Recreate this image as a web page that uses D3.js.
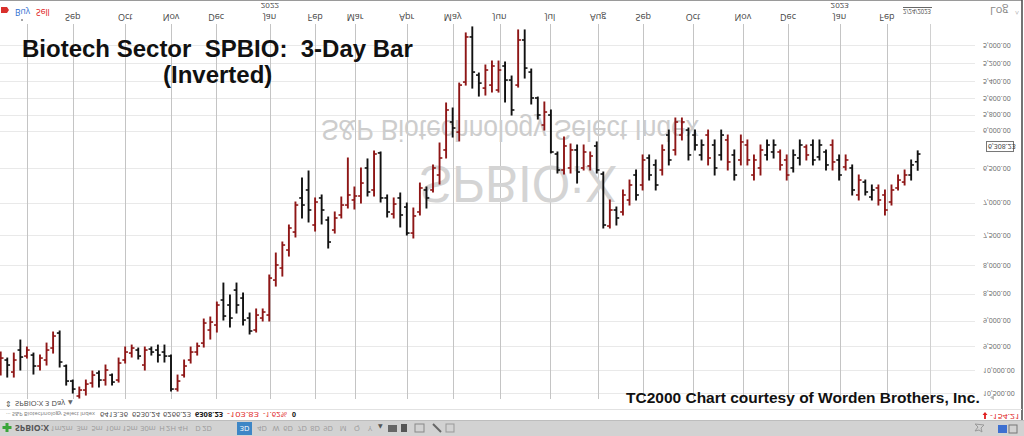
<!DOCTYPE html>
<html><head><meta charset="utf-8">
<script src="https://cdn.jsdelivr.net/npm/d3@7/dist/d3.min.js"></script>
<style>html,body{margin:0;padding:0;background:#fff;overflow:hidden}svg{display:block}</style>
</head><body><svg id="c" width="1024" height="436"></svg>
<script>
// 3-day bars, S&P Biotechnology Select Index (SPBIO:X), Aug 2021 - Feb 24 2023
const open  = [9956,9787,10041,9581,9705,9684,9913,9787,9540,9240,9913,10236,10568,10434,10280,10063,10214,10106,10214,9787,
9643,9581,9892,9561,9581,9622,9705,10412,10106,9787,9622,9440,9181,9083,8612,8704,8431,8576,8949,9181,
8949,8892,8253,8044,7741,7450,6928,6811,7339,6928,7261,7418,7184,7033,6958,6899,6499,6811,6294,6928,
7169,6928,7063,7466,7138,6811,6811,6597,6254,5892,6020,5411,4915,5331,5481,5446,5504,5229,5388,5446,
4947,5297,5598,5930,5805,6308,6527,6499,6254,6499,6471,6201,6583,7355,7108,7138,6958,6597,6739,6362,
6457,6527,6058,6254,6058,5994,6058,6321,6058,6188,6321,6122,6321,6389,6188,6597,6499,6321,6281,6281,
6389,6499,6362,6214,6188,6348,6281,6188,6389,6485,6499,6884,6697,6914,6782,6884,6988,6782,6697,6597,6413.36];
const high  = [10106,10149,10149,9998,9746,10084,9998,9892,9643,9934,10324,10501,10613,10546,10368,10368,10324,10324,10258,9850,
9725,9766,9998,9684,9829,9829,10456,10456,10149,9850,9684,9520,9359,9220,8987,9122,8854,9083,9259,9220,
9006,9006,8359,8183,7841,7529,7230,7292,7434,7323,7708,7466,7230,7078,7093,7003,6899,6899,6988,7215,
7230,7370,7497,7545,7184,7078,6840,6725,6362,6084,6135,5446,5481,5575,5563,5528,5528,5646,5805,5469,
5365,5670,5855,5994,6294,6569,6583,6569,6711,6527,6527,6569,7386,7386,7339,7184,7033,6958,6811,6668,
6811,6597,6457,6321,6122,6389,6254,6389,6457,6597,6389,6527,6668,6457,6457,6668,6597,6389,6362,6527,
6668,6555,6457,6389,6457,6389,6527,6527,6668,6527,6884,6958,6884,6958,7033,7184,7033,6811,6739,6668,6530.24];
const low   = [9622,9746,9643,9379,9520,9643,9684,9440,9220,9200,9892,10214,10368,10214,10020,10020,9892,10084,9746,9520,
9480,9540,9520,9520,9480,9480,9684,10106,9787,9520,9440,8968,8930,8649,8306,8521,8306,8485,8854,8778,
8778,8165,7791,7610,7339,6988,6640,6541,6928,6884,7215,7138,6914,6362,6768,6499,6375,6267,6281,6884,
6928,6855,7003,7078,6711,6768,6457,6162,5658,5719,5423,4873,4811,5308,5218,5174,5174,5185,5342,4842,
4842,5263,5587,5646,5743,6281,6084,6175,6188,6188,6281,6148,6555,6958,7063,6811,6668,6527,6321,6321,
6389,6188,5994,5842,5842,5968,5994,6122,5994,6122,5994,6058,6254,6058,6122,6321,6188,6122,6122,6254,
6321,6254,6122,6188,6122,6122,6254,6122,6321,6321,6457,6597,6668,6739,6739,6811,6739,6597,6527,6389,6266.23];
const close = [9746,9892,9787,9725,9581,9913,9746,9581,9299,9829,10236,10412,10434,10302,10106,10214,9998,10258,9850,9622,
9540,9705,9581,9622,9684,9705,10412,10236,9913,9622,9500,9045,9026,8704,8911,8949,8704,8987,9200,8892,
8835,8218,7992,7659,7386,7033,7033,7108,6988,7108,7610,7230,7033,6884,6899,6711,6840,6308,6928,7138,
7018,7184,7466,7199,6782,6928,6499,6362,5743,5968,5446,4915,5297,5423,5274,5229,5274,5388,5743,4947,
5252,5598,5805,5768,6281,6527,6201,6254,6555,6281,6335,6527,7339,7108,7230,6884,6739,6884,6389,6597,
6739,6254,6389,5892,5892,6321,6188,6188,6362,6499,6058,6416,6597,6148,6389,6389,6254,6188,6188,6457,
6597,6321,6188,6321,6389,6188,6457,6416,6597,6389,6811,6668,6840,6811,6958,7108,6811,6668,6597,6457,6308.23];
const barColor = "rbrbrbrrrbbbrrrbrbrrrbrbbbbrrrrrrrbbbbbrrrrrrrbbrbbrrrrrbrbbrbbrrbrrrbrrbbrrrbbrbbbrbbrrbrrbbrbrrbrbbrbrrbbbrbbrbrrrrbbrrbbrbbbrbrbrbbrrrrr";
const monthLabels = ["", "Sep","Oct","Nov","Dec","Jan","Feb","Mar","Apr","May","Jun","Jul","Aug","Sep","Oct","Nov","Dec","Jan","Feb"];
const monthPos    = [4.0, 11.0, 19.0, 26.0, 32.9, 41.1, 48.0, 54.1, 62.0, 69.0, 76.2, 83.9, 91.2, 98.1, 105.7, 113.3, 120.2, 128.1, 135.3];
const yearLabels = ["2022","2023"];
const yearPos    = [41.1, 128.1];
const currentDate = "2/24/2023";
const currentPos = 141.9;
const yTicks = [5000,5200,5400,5600,5800,6000,6500,7000,7500,8000,8500,9000,9500,10000,10500];
const lastClose = 6308.23;
const infoValues = ["6413.36","6530.24","6266.23","6308.23","-103.83","-1.62%","0"];
const periods = ["1m","2m","3m","5m","10m","15m","30m","H","2H","4H","D","2D","3D","4D","W","6D","7D","8D","9D","M","Q","Y"];

const svg = d3.select("#c");
const N = close.length;
const x = d3.scaleLinear().domain([0, N - 1]).range([0.7, 0.7 + 6.55 * (N - 1)]);
const y = d3.scaleLog().domain([5000, 10500]).range([45, 393]);   // inverted chart

function ftext(g, px, py, str, size, color, opts = {}) {
  const t = g.append("text")
    .attr("transform", `translate(${px},${py}) scale(1,-1)`)
    .attr("font-family", opts.family || "'Open Sans', 'DejaVu Sans', sans-serif")
    .attr("font-size", size)
    .attr("fill", color)
    .attr("text-anchor", opts.anchor || "start")
    .text(str);
  if (opts.weight) t.attr("font-weight", opts.weight);
  if (opts.len) t.attr("textLength", opts.len).attr("lengthAdjust", "spacingAndGlyphs");
  return t;
}

// top border
svg.append("line").attr("x1", 0).attr("x2", 1022).attr("y1", 0.5).attr("y2", 0.5).attr("stroke", "#9a9a9a");

// horizontal gridlines
svg.append("g").selectAll("line").data(yTicks).join("line")
  .attr("x1", 0).attr("x2", 975)
  .attr("y1", d => Math.round(y(d)) + 0.5).attr("y2", d => Math.round(y(d)) + 0.5)
  .attr("stroke", "#e9e9e9");

// vertical month gridlines
svg.append("g").selectAll("line").data(monthPos).join("line")
  .attr("x1", d => Math.round(x(d)) + 0.5).attr("x2", d => Math.round(x(d)) + 0.5)
  .attr("y1", 24).attr("y2", 399)
  .attr("stroke", "#c4c4c4");
svg.append("line").attr("x1", Math.round(x(currentPos)) + 0.5).attr("x2", Math.round(x(currentPos)) + 0.5)
  .attr("y1", 24).attr("y2", 399).attr("stroke", "#d0d0d0");

// watermark
const wm = svg.append("g");
ftext(wm, 321, 120, "S&P Biotechnology Select Index", 30, "#cdcdcd", {family: "'Liberation Sans', Arial, sans-serif", len: 378});
ftext(wm, 419, 166, "SPBIO:X", 52, "#d4d4d4", {family: "'Liberation Sans', Arial, sans-serif", len: 198});

// month labels (flipped)
const axg = svg.append("g");
monthLabels.forEach((m, i) => { if (m) ftext(axg, x(monthPos[i]), 13.5, m, 9, "#444", {anchor: "middle"}); });
yearLabels.forEach((yl, i) => ftext(axg, x(yearPos[i]), 3, yl, 8, "#444", {anchor: "middle"}));
ftext(axg, 917, 9, currentDate, 7, "#444", {anchor: "middle", len: 28});
axg.append("line").attr("x1", 903).attr("x2", 932).attr("y1", 7.5).attr("y2", 7.5).attr("stroke", "#666");
ftext(axg, 990, 7, "Log", 11, "#888");
ftext(axg, 1015, 9, "^", 7, "#aaa");

// Buy / Sell
axg.append("path").attr("d", "M1,7 h6 l2,3 l-2,3 h-6 z").attr("fill", "#d9302c");
ftext(axg, 15, 9, "Buy", 8.5, "#2f6fd0");
ftext(axg, 36, 9, "Sell", 8.5, "#e02020");
axg.append("circle").attr("cx", 22).attr("cy", 20).attr("r", 0.8).attr("fill", "#333");

// right axis
const ra = svg.append("g");
yTicks.forEach(v => ftext(ra, 983, y(v) - 2.5, d3.format(",.2f")(v), 7, "#666"));
ra.append("rect").attr("x", 986.5).attr("y", y(lastClose) - 12.5).attr("width", 27).attr("height", 10)
  .attr("fill", "#fff").attr("stroke", "#777");
ftext(ra, 988, y(lastClose) - 10, d3.format(",.2f")(lastClose), 7, "#333");
svg.append("line").attr("x1", 1022).attr("x2", 1022).attr("y1", 0).attr("y2", 420).attr("stroke", "#444").attr("stroke-width", 1.5);
svg.append("path").attr("d", "M994,395 l-4,2.5 l4,2.5 z").attr("fill", "#bbb");

// bars
const bars = svg.append("g").attr("stroke-width", 1.9);
const idx = d3.range(N);
const col = i => barColor[i] === "r" ? "#8e1616" : "#111";
bars.selectAll("line.v").data(idx).join("line").attr("class", "v")
  .attr("x1", i => x(i)).attr("x2", i => x(i))
  .attr("y1", i => y(low[i]) - 0.5).attr("y2", i => y(high[i]) + 0.5)
  .attr("stroke", col);
bars.selectAll("line.o").data(idx).join("line").attr("class", "o")
  .attr("x1", i => x(i) - 2.8).attr("x2", i => x(i))
  .attr("y1", i => y(open[i])).attr("y2", i => y(open[i]))
  .attr("stroke", col).attr("stroke-width", 1.6);
bars.selectAll("line.c").data(idx).join("line").attr("class", "c")
  .attr("x1", i => x(i)).attr("x2", i => x(i) + 2.8)
  .attr("y1", i => y(close[i])).attr("y2", i => y(close[i]))
  .attr("stroke", col).attr("stroke-width", 1.6);

// titles (normal orientation)
const tf = "'Liberation Sans', Arial, Helvetica, sans-serif";
svg.append("text").attr("x", 22).attr("y", 57).attr("font-family", tf).attr("font-weight", "bold")
  .attr("font-size", 24).attr("fill", "#111").attr("xml:space", "preserve")
  .text("Biotech Sector  SPBIO:  3-Day Bar");
svg.append("text").attr("x", 163).attr("y", 83).attr("font-family", tf).attr("font-weight", "bold")
  .attr("font-size", 24).attr("fill", "#111").text("(Inverted)");
svg.append("text").attr("x", 626).attr("y", 403).attr("font-family", tf).attr("font-weight", "bold")
  .attr("font-size", 15.5).attr("fill", "#111").text("TC2000 Chart courtesy of Worden Brothers, Inc.");

// bottom panel
const bp = svg.append("g");
ftext(bp, 5, 401, "⇕", 8, "#555");
ftext(bp, 15, 401, "SPBIO:X 3 Day", 8, "#444", {len: 50});
ftext(bp, 68, 401, "▲", 6, "#666");
bp.append("line").attr("x1", 0).attr("x2", 1022).attr("y1", 409.5).attr("y2", 409.5).attr("stroke", "#e2e2e2");
ftext(bp, 6, 412, "··· S&P Biotechnology Select Index", 6, "#777", {len: 89});
const infoX = [100, 132, 163, 195, 227, 263, 292];
const infoL = [28, 28, 28, 28, 32, 24, 4];
const infoC = ["#444","#444","#444","#111","#e02020","#e02020","#111"];
infoValues.forEach((v, i) => ftext(bp, infoX[i], 412, v, 7.5, infoC[i],
  {weight: (i === 3 || i === 6) ? "bold" : null, len: infoL[i]}));
ftext(bp, 990, 414, "-154.21", 7, "#e02020", {len: 30});
bp.append("path").attr("d", "M985,412 l-2.5,3 h1.6 v4 h1.8 v-4 h1.6 z").attr("fill", "#e02020");

// toolbar
bp.append("rect").attr("x", 0).attr("y", 421).attr("width", 1024).attr("height", 15).attr("fill", "#d2d2d2");
bp.append("line").attr("x1", 0).attr("x2", 1024).attr("y1", 420.5).attr("y2", 420.5).attr("stroke", "#bdbdbd");
bp.append("path").attr("d", "M5.5,423 h3 v3 h3 v3 h-3 v3 h-3 v-3 h-3 v-3 h3 z").attr("fill", "#3aa63a");
ftext(bp, 15, 425, "SPBIO:X", 9, "#555", {weight: "bold", len: 34});
const perX = [56,67,82,97,113,130,148,162,171,183,198,207,243,262,276,288,302,315,328,343,357,370];
periods.forEach((p, i) => {
  if (p === "3D") {
    bp.append("rect").attr("x", perX[i] - 6).attr("y", 422).attr("width", 15).attr("height", 13).attr("fill", "#3d86c6");
    ftext(bp, perX[i] + 1.5, 425.5, p, 7.5, "#fff", {anchor: "middle"});
  } else ftext(bp, perX[i], 425.5, p, 7.5, "#9a9a9a", {anchor: "middle"});
});
ftext(bp, 378, 425, "▲", 6, "#555");
bp.append("rect").attr("x", 388).attr("y", 425).attr("width", 9).attr("height", 7).attr("fill", "#666");
bp.append("rect").attr("x", 401).attr("y", 424).attr("width", 6).attr("height", 8).attr("fill", "#555");
bp.append("rect").attr("x", 415).attr("y", 424).attr("width", 9).attr("height", 8).attr("fill", "none").attr("stroke", "#888");
bp.append("line").attr("x1", 433).attr("x2", 441).attr("y1", 424).attr("y2", 432).attr("stroke", "#666").attr("stroke-width", 2);
bp.append("rect").attr("x", 446).attr("y", 424).attr("width", 8).attr("height", 8).attr("fill", "none").attr("stroke", "#999");
bp.append("rect").attr("x", 998).attr("y", 425).attr("width", 9).attr("height", 8).attr("fill", "#3d6fd0");
bp.append("rect").attr("x", 1009).attr("y", 425).attr("width", 8).attr("height", 8).attr("fill", "none").attr("stroke", "#777");
bp.append("path").attr("d", "M975,424 l3,3 l-3,4 l4,-1 l3,2 l-1,-4 l3,-3 z").attr("fill", "none").attr("stroke", "#999");
</script></body></html>
